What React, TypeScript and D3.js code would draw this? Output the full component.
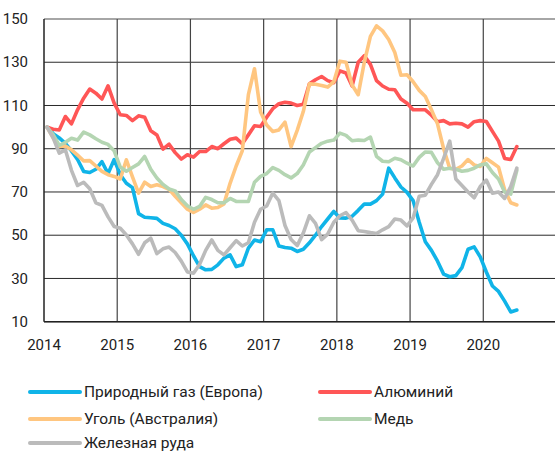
import React from "react";
import * as d3 from "d3";

const yTicks = [10, 30, 50, 70, 90, 110, 130, 150];
const xTicks = [2014, 2015, 2016, 2017, 2018, 2019, 2020];

const gas = [100, 97, 95, 92.5, 89, 85, 79.5, 79, 80.5, 84, 78.5, 85, 78, 74, 72, 60, 58.3, 58.1, 57.8, 55.5, 54.5, 53, 50, 46, 40.5, 35.5, 34, 34.2, 36.3, 39.4, 40.9, 35.5, 36.3, 44, 47.8, 47, 52.5, 52.5, 45, 44.3, 44, 42.5, 43.5, 46.5, 50, 54, 57.5, 61, 58, 57.9, 58.8, 61.5, 64.4, 64.4, 66, 69, 81, 76.5, 72.3, 69.8, 66, 56, 47, 43, 38, 32, 30.8, 31.3, 35, 43.5, 44.6, 40, 33, 26.5, 24, 19.5, 14.5, 15.4];
const aluminium = [100, 99, 98.7, 104.9, 101.5, 108, 113.4, 117.6, 115.7, 113, 119.1, 111.1, 105.7, 105.4, 103, 105.2, 104.6, 98.3, 96.4, 89.8, 92.1, 88.2, 85.2, 87.2, 86.1, 88.7, 88.7, 91, 90, 92.3, 94.4, 94.9, 92.3, 96.4, 100.6, 100.3, 104.6, 108.5, 110.8, 111.5, 111.1, 110, 110.6, 120, 121.9, 123.4, 121.5, 120.5, 126, 125, 119, 130, 133, 129, 121.5, 119, 117.5, 117.3, 113, 111, 108, 108, 108, 105.5, 102.5, 103, 101.5, 101.8, 101.5, 100, 102.5, 103, 102.6, 98, 93.5, 85.5, 85, 91];
const coal = [100, 95, 91, 91.3, 89.5, 87, 84.4, 84.5, 82, 79.5, 78, 77.2, 76, 84.9, 77, 69.5, 74.5, 72.5, 73.3, 72.5, 71.2, 68, 65, 62, 60.5, 62, 64, 62.5, 62.8, 64.5, 74, 82, 89, 115, 127, 107, 101, 98, 98.7, 102.3, 91, 98.5, 107.2, 120, 119.8, 119.2, 118.5, 121, 130.5, 130, 119.5, 115, 130, 142, 146.8, 144.5, 140.5, 134.5, 124, 124.2, 121, 117, 114.2, 108, 101.5, 90, 81, 80.5, 82, 85, 82.5, 81.8, 85.5, 83.5, 81.5, 71, 65, 64];
const copper = [100, 96.5, 91.5, 93, 94.8, 94, 97.7, 96.4, 94.6, 93, 92, 89, 81.5, 79.6, 81.3, 83, 86.4, 80.5, 76.5, 73.5, 71.4, 70.5, 66.5, 63.6, 62, 63.3, 67.5, 66.5, 65, 65, 67, 65.6, 65.6, 65.6, 74.5, 77.2, 78.5, 81.3, 80, 78, 76.5, 78.5, 82.5, 88.5, 90.5, 92.5, 93.5, 94, 97.2, 96.2, 93.7, 94, 93.8, 95.4, 86.5, 84.2, 84, 85.6, 84.9, 83.3, 82, 86, 88.5, 88.3, 83.5, 80.5, 81, 80.5, 79.6, 80, 81, 82.5, 83, 79, 76, 70, 69, 80];
const ironOre = [100, 95, 88, 89.5, 80, 73, 74.5, 71.5, 65, 63.8, 58.5, 54, 53.2, 50.1, 46, 41.2, 46.5, 48.6, 41.5, 43.7, 44.5, 42, 38, 33, 32.4, 36.5, 43, 47.8, 43, 40.9, 44.2, 47.5, 45, 46.5, 56, 62, 63.5, 69.5, 66, 54.5, 48, 45.2, 51, 59, 55.5, 48, 50.5, 56, 59, 60.5, 57, 52.1, 51.7, 51.2, 50.8, 52.5, 54, 57.5, 57, 54.3, 58, 68, 68.5, 73.5, 78, 85.5, 93.5, 76, 73, 70, 67.3, 72.5, 75.5, 69.4, 70, 67, 72.5, 81];

const seriesNames = ["Природный газ (Европа)", "Алюминий", "Уголь (Австралия)", "Медь", "Железная руда"];
const seriesColors = ["#10B4E8", "#FF5656", "#FFC680", "#B4D5B2", "#BBBBBB"];
const seriesData = [gas, aluminium, coal, copper, ironOre];

const W = 555;
const H = 452;
const FONT = "Roboto, 'Noto Sans', sans-serif";

export default function App() {
  const x = d3.scaleLinear().domain([2014, 2021]).range([44, 556.5]);
  const y = d3.scaleLinear().domain([10, 150]).range([321.7, 19]);
  const line = d3
    .line<number>()
    .x((_, i) => x(2014 + (i + 0.5) / 12))
    .y((d) => y(d))
    .curve(d3.curveLinear);

  const legendPos = [
    [30, 392],
    [320, 392],
    [30, 419],
    [320, 419],
    [30, 443],
  ];
  // drawing order: legend order, grey on top
  return (
    <svg width={W} height={H} style={{ position: "absolute", left: 0, top: 0, background: "#fff" }}>
      {yTicks.map((t) => (
        <line key={"h" + t} x1={x(2014)} x2={W} y1={y(t)} y2={y(t)} stroke={t === 150 ? "#888" : "#2a2a2a"} strokeWidth={t === 150 ? 1.5 : 1} />
      ))}
      {xTicks.slice(1).map((t) => (
        <line key={"v" + t} x1={x(t)} x2={x(t)} y1={y(150)} y2={y(10)} stroke="#444" strokeWidth={1.2} />
      ))}
      {seriesData.map((s, k) => (
        <path key={"s" + k} d={line(s) || ""} fill="none" stroke={seriesColors[k]} strokeWidth={3.6} strokeLinejoin="round" strokeLinecap="round" />
      ))}
      <line x1={x(2014)} x2={x(2014)} y1={y(150)} y2={y(10)} stroke="#222" strokeWidth={1.5} />
      <line x1={x(2014)} x2={W} y1={y(10)} y2={y(10)} stroke="#222" strokeWidth={1.5} />
      {yTicks.map((t) => (
        <text key={"yl" + t} x={28} y={y(t)} dy="0.35em" textAnchor="end" fontFamily={FONT} fontSize={15} fill="#222">
          {t}
        </text>
      ))}
      {xTicks.map((t) => (
        <text key={"xl" + t} x={x(t)} y={350} textAnchor="middle" fontFamily={FONT} fontSize={15} fill="#222">
          {t}
        </text>
      ))}
      {seriesNames.map((n, k) => (
        <g key={"lg" + k}>
          <line x1={legendPos[k][0]} x2={legendPos[k][0] + 50} y1={legendPos[k][1]} y2={legendPos[k][1]} stroke={seriesColors[k]} strokeWidth={4} strokeLinecap="round" />
          <text x={legendPos[k][0] + 54} y={legendPos[k][1]} dy="0.35em" fontFamily={FONT} fontSize={15.5} fill="#222">
            {n}
          </text>
        </g>
      ))}
    </svg>
  );
}
